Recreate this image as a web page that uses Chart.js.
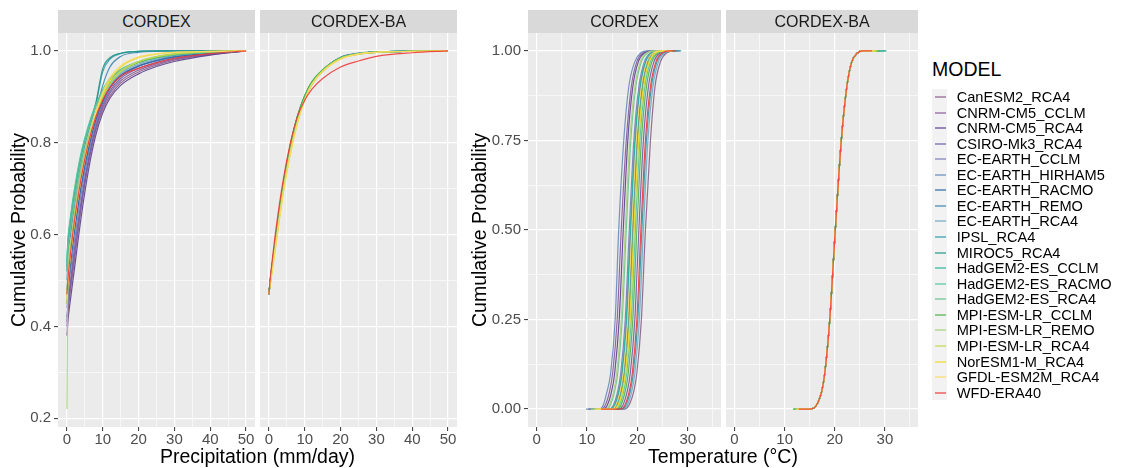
<!DOCTYPE html>
<html>
<head>
<meta charset="utf-8">
<script src="https://cdn.jsdelivr.net/npm/chart.js@4.4.1/dist/chart.umd.min.js"></script>
<style>
  body { margin: 0; background: #fff; font-family: 'Liberation Sans', Arial, sans-serif; }
  #fig { position: relative; width: 1132px; height: 468px; overflow: hidden; }
  canvas { position: absolute; }
  .strip { position: absolute; top: 10px; height: 23px; line-height: 23px; background: #D9D9D9;
           color: #1A1A1A; font-size: 16px; text-align: center; }
  .title { position: absolute; font-size: 19.5px; color: #000; white-space: nowrap; line-height: 22px; }
  .ytitle { transform: translate(-50%, -50%) rotate(-90deg); }
  .xtitle { transform: translate(-50%, -50%); }
  #legend { position: absolute; left: 932px; top: 58px; }
  #legend .head { font-size: 19.5px; line-height: 22px; }
  #keys { position: absolute; left: 0; top: 31px; width: 15px; height: 311px; background: #F2F2F2; }
  .row { position: absolute; left: 0; height: 16px; line-height: 16px; font-size: 14.6px; color: #000; white-space: nowrap; }
  .row i { position: absolute; left: 2.5px; top: 7px; width: 11.5px; height: 2px; }
  .row span { position: absolute; left: 24.7px; top: 0; }
</style>
</head>
<body>
<div id="fig">
  <canvas id="p1"></canvas>
  <canvas id="p2"></canvas>
  <canvas id="p3"></canvas>
  <canvas id="p4"></canvas>
  <div class="strip" style="left:58px;width:197px">CORDEX</div>
  <div class="strip" style="left:260px;width:197px">CORDEX-BA</div>
  <div class="strip" style="left:528px;width:193px">CORDEX</div>
  <div class="strip" style="left:726px;width:192px">CORDEX-BA</div>
  <div class="title ytitle" style="left:17.5px;top:230px">Cumulative Probability</div>
  <div class="title ytitle" style="left:479px;top:230px">Cumulative Probability</div>
  <div class="title xtitle" style="left:257.5px;top:456px">Precipitation (mm/day)</div>
  <div class="title xtitle" style="left:723px;top:456px">Temperature (°C)</div>
  <div id="legend"><div class="head">MODEL</div><div id="keys"></div></div>
</div>
<script>
Chart.defaults.font.family = "'Liberation Sans', Arial, sans-serif";

// models, in legend order (last one is drawn on top)
const MODELS = [
  'CanESM2_RCA4', 'CNRM-CM5_CCLM', 'CNRM-CM5_RCA4', 'CSIRO-Mk3_RCA4', 'EC-EARTH_CCLM',
  'EC-EARTH_HIRHAM5', 'EC-EARTH_RACMO', 'EC-EARTH_REMO', 'EC-EARTH_RCA4', 'IPSL_RCA4',
  'MIROC5_RCA4', 'HadGEM2-ES_CCLM', 'HadGEM2-ES_RACMO', 'HadGEM2-ES_RCA4', 'MPI-ESM-LR_CCLM',
  'MPI-ESM-LR_REMO', 'MPI-ESM-LR_RCA4', 'NorESM1-M_RCA4', 'GFDL-ESM2M_RCA4', 'WFD-ERA40'
];
const COLORS = [
  '#8B5E8B', '#8A5A9A', '#5B3F8F', '#6B5CA5', '#7C7DB8',
  '#6788BC', '#2F65A6', '#3E86B0', '#72A9C4', '#2E9AAA',
  '#1F9686', '#2BB39A', '#52C4A0', '#6CC28F', '#4FB04A',
  '#A5D17A', '#C2D84C', '#EFD928', '#F7DC6A', '#EE3B3B'
];

// precipitation: cumulative probability at these amounts (mm/day)
const PREC_X = [0, 0.25, 1, 2, 4, 6, 8, 10, 12, 15, 20, 25, 30, 40, 50];
const PREC_CORDEX = [
  [0.40, 0.43, 0.48, 0.54, 0.660, 0.755, 0.825, 0.872, 0.902, 0.930, 0.954, 0.969, 0.980, 0.992, 1],
  [0.41, 0.44, 0.49, 0.55, 0.665, 0.760, 0.830, 0.877, 0.908, 0.935, 0.958, 0.972, 0.982, 0.993, 1],
  [0.38, 0.41, 0.46, 0.52, 0.640, 0.740, 0.815, 0.865, 0.897, 0.925, 0.950, 0.966, 0.977, 0.991, 1],
  [0.42, 0.45, 0.50, 0.565, 0.675, 0.765, 0.835, 0.882, 0.913, 0.940, 0.962, 0.975, 0.984, 0.994, 1],
  [0.44, 0.47, 0.52, 0.58, 0.690, 0.775, 0.840, 0.887, 0.918, 0.944, 0.966, 0.978, 0.986, 0.995, 1],
  [0.46, 0.49, 0.545, 0.605, 0.710, 0.790, 0.850, 0.893, 0.922, 0.948, 0.968, 0.980, 0.988, 0.996, 1],
  [0.45, 0.48, 0.535, 0.60, 0.705, 0.785, 0.848, 0.890, 0.920, 0.946, 0.967, 0.979, 0.987, 0.995, 1],
  [0.50, 0.55, 0.60, 0.655, 0.745, 0.810, 0.862, 0.925, 0.965, 0.988, 0.997, 0.999, 1, 1, 1],
  [0.48, 0.51, 0.565, 0.625, 0.725, 0.800, 0.857, 0.898, 0.926, 0.951, 0.971, 0.982, 0.990, 0.997, 1],
  [0.52, 0.57, 0.62, 0.675, 0.760, 0.825, 0.880, 0.955, 0.982, 0.994, 0.999, 1, 1, 1, 1],
  [0.53, 0.58, 0.63, 0.685, 0.770, 0.832, 0.885, 0.962, 0.985, 0.995, 0.999, 1, 1, 1, 1],
  [0.54, 0.58, 0.635, 0.69, 0.775, 0.835, 0.880, 0.915, 0.938, 0.958, 0.975, 0.985, 0.991, 0.997, 1],
  [0.55, 0.59, 0.64, 0.695, 0.780, 0.838, 0.882, 0.915, 0.940, 0.960, 0.977, 0.987, 0.993, 0.998, 1],
  [0.52, 0.56, 0.615, 0.675, 0.765, 0.830, 0.877, 0.913, 0.938, 0.958, 0.976, 0.986, 0.992, 0.997, 1],
  [0.47, 0.51, 0.57, 0.63, 0.730, 0.805, 0.860, 0.900, 0.930, 0.955, 0.975, 0.986, 0.993, 0.998, 1],
  [0.22, 0.50, 0.58, 0.645, 0.745, 0.815, 0.865, 0.903, 0.932, 0.957, 0.977, 0.988, 0.994, 0.998, 1],
  [0.46, 0.50, 0.56, 0.62, 0.725, 0.800, 0.858, 0.898, 0.928, 0.955, 0.976, 0.987, 0.993, 0.998, 1],
  [0.45, 0.49, 0.555, 0.62, 0.725, 0.800, 0.860, 0.905, 0.937, 0.965, 0.985, 0.993, 0.997, 0.999, 1],
  [0.46, 0.50, 0.56, 0.625, 0.730, 0.805, 0.865, 0.910, 0.942, 0.968, 0.987, 0.994, 0.997, 0.999, 1],
  [0.47, 0.50, 0.56, 0.625, 0.725, 0.800, 0.855, 0.893, 0.920, 0.945, 0.962, 0.974, 0.984, 0.994, 1]
];
const PREC_BA = [
  [0.47, 0.490, 0.535, 0.595, 0.703, 0.788, 0.852, 0.897, 0.928, 0.956, 0.984, 0.994, 0.997, 0.999, 1],
  [0.47, 0.490, 0.536, 0.596, 0.704, 0.789, 0.853, 0.898, 0.929, 0.957, 0.985, 0.994, 0.997, 0.999, 1],
  [0.47, 0.488, 0.533, 0.592, 0.700, 0.786, 0.850, 0.896, 0.928, 0.957, 0.985, 0.994, 0.998, 0.999, 1],
  [0.47, 0.490, 0.535, 0.594, 0.702, 0.787, 0.851, 0.897, 0.928, 0.956, 0.984, 0.993, 0.997, 0.999, 1],
  [0.47, 0.491, 0.537, 0.597, 0.705, 0.790, 0.854, 0.899, 0.929, 0.957, 0.985, 0.994, 0.997, 0.999, 1],
  [0.47, 0.490, 0.536, 0.595, 0.704, 0.789, 0.853, 0.898, 0.929, 0.957, 0.985, 0.994, 0.998, 0.999, 1],
  [0.47, 0.491, 0.538, 0.598, 0.707, 0.792, 0.856, 0.900, 0.930, 0.958, 0.986, 0.995, 0.998, 0.999, 1],
  [0.47, 0.491, 0.538, 0.598, 0.706, 0.791, 0.855, 0.900, 0.930, 0.957, 0.985, 0.994, 0.998, 0.999, 1],
  [0.47, 0.490, 0.536, 0.596, 0.705, 0.790, 0.854, 0.899, 0.929, 0.956, 0.984, 0.994, 0.997, 0.999, 1],
  [0.47, 0.492, 0.539, 0.599, 0.708, 0.793, 0.857, 0.901, 0.931, 0.958, 0.985, 0.994, 0.998, 0.999, 1],
  [0.47, 0.492, 0.540, 0.600, 0.710, 0.795, 0.858, 0.902, 0.932, 0.958, 0.985, 0.994, 0.998, 0.999, 1],
  [0.47, 0.492, 0.540, 0.600, 0.710, 0.795, 0.858, 0.902, 0.932, 0.958, 0.985, 0.994, 0.998, 0.999, 1],
  [0.47, 0.492, 0.539, 0.600, 0.709, 0.794, 0.858, 0.902, 0.931, 0.958, 0.985, 0.994, 0.998, 0.999, 1],
  [0.47, 0.493, 0.541, 0.601, 0.711, 0.796, 0.859, 0.903, 0.932, 0.958, 0.985, 0.994, 0.998, 0.999, 1],
  [0.47, 0.493, 0.541, 0.602, 0.712, 0.797, 0.860, 0.903, 0.933, 0.959, 0.985, 0.994, 0.998, 0.999, 1],
  [0.47, 0.489, 0.532, 0.590, 0.700, 0.785, 0.850, 0.897, 0.929, 0.957, 0.984, 0.994, 0.997, 0.999, 1],
  [0.47, 0.487, 0.529, 0.586, 0.695, 0.781, 0.847, 0.895, 0.928, 0.956, 0.983, 0.993, 0.997, 0.999, 1],
  [0.47, 0.485, 0.525, 0.580, 0.690, 0.776, 0.843, 0.893, 0.927, 0.956, 0.983, 0.993, 0.997, 0.999, 1],
  [0.47, 0.486, 0.527, 0.583, 0.692, 0.778, 0.845, 0.894, 0.927, 0.955, 0.982, 0.993, 0.997, 0.999, 1],
  [0.47, 0.495, 0.550, 0.615, 0.720, 0.800, 0.858, 0.893, 0.917, 0.940, 0.965, 0.978, 0.988, 0.996, 1]
];

// temperature: value (°C) reached at each cumulative probability
const TEMP_P = [0, 0, 0.01, 0.05, 0.1, 0.25, 0.5, 0.75, 0.9, 0.97, 0.995, 1, 1];
const TEMP_CORDEX = [
  [13.6, 17.4, 18.3, 19.3, 19.9, 20.8, 21.6, 22.6, 23.5, 24.6, 25.9, 27.3, 28.4],
  [10.2, 12.8, 13.6, 14.5, 15.1, 16.0, 16.8, 17.8, 18.8, 19.9, 21.2, 22.6, 24.5],
  [10.5, 13.2, 14.0, 14.9, 15.5, 16.4, 17.2, 18.1, 19.1, 20.2, 21.5, 23.0, 25.0],
  [12.4, 16.2, 17.1, 18.0, 18.6, 19.5, 20.3, 21.2, 22.2, 23.3, 24.6, 26.0, 27.6],
  [11.2, 14.4, 15.2, 16.1, 16.7, 17.6, 18.4, 19.3, 20.3, 21.4, 22.7, 24.2, 26.0],
  [9.8, 12.4, 13.2, 14.0, 14.7, 15.6, 16.3, 17.3, 18.3, 19.5, 20.7, 22.0, 24.0],
  [11.6, 15.0, 15.8, 16.7, 17.3, 18.2, 19.0, 19.9, 20.9, 22.0, 23.3, 24.8, 26.5],
  [11.4, 14.7, 15.5, 16.4, 17.0, 17.9, 18.7, 19.6, 20.6, 21.7, 23.0, 24.5, 26.2],
  [13.3, 17.1, 18.0, 18.9, 19.5, 20.4, 21.2, 22.1, 23.1, 24.2, 25.5, 27.0, 28.2],
  [13.0, 16.8, 17.7, 18.6, 19.2, 20.1, 20.9, 21.8, 22.8, 23.9, 25.2, 26.7, 28.7],
  [11.8, 15.2, 16.0, 16.9, 17.5, 18.4, 19.2, 20.1, 21.1, 22.2, 23.5, 25.0, 26.8],
  [11.3, 14.6, 15.4, 16.3, 16.9, 17.8, 18.6, 19.5, 20.5, 21.6, 22.9, 24.4, 26.1],
  [12.0, 15.6, 16.4, 17.3, 17.9, 18.8, 19.6, 20.5, 21.5, 22.6, 23.9, 25.4, 27.2],
  [10.8, 13.8, 14.6, 15.5, 16.1, 17.0, 17.8, 18.7, 19.7, 20.8, 22.1, 23.6, 25.4],
  [12.2, 15.9, 16.7, 17.6, 18.2, 19.1, 19.9, 20.8, 21.8, 22.9, 24.2, 25.7, 27.4],
  [10.7, 13.6, 14.4, 15.3, 15.9, 16.8, 17.6, 18.5, 19.5, 20.6, 21.9, 23.4, 25.2],
  [11.9, 15.4, 16.2, 17.1, 17.7, 18.6, 19.4, 20.3, 21.3, 22.4, 23.7, 25.2, 27.0],
  [11.9, 15.3, 16.1, 17.0, 17.6, 18.5, 19.3, 20.2, 21.2, 22.3, 23.6, 25.1, 26.9],
  [11.5, 14.9, 15.7, 16.6, 17.2, 18.1, 18.9, 19.8, 20.8, 21.9, 23.2, 24.7, 26.4],
  [12.8, 16.6, 17.5, 18.4, 19.0, 19.9, 20.7, 21.6, 22.6, 23.7, 25.0, 26.4, 27.6]
];
const TEMP_BA = [
  [12.6, 15.0, 16.3, 17.4, 18.0, 19.0, 20.1, 21.3, 22.4, 23.4, 24.6, 25.6, 28.0],
  [12.6, 15.0, 16.3, 17.4, 18.0, 19.0, 20.1, 21.3, 22.4, 23.4, 24.6, 25.6, 28.1],
  [12.5, 15.0, 16.3, 17.4, 18.0, 19.0, 20.1, 21.3, 22.4, 23.4, 24.6, 25.6, 28.2],
  [12.5, 15.0, 16.3, 17.4, 18.0, 19.0, 20.1, 21.3, 22.4, 23.4, 24.6, 25.6, 28.3],
  [12.4, 15.0, 16.3, 17.4, 18.0, 19.0, 20.1, 21.3, 22.4, 23.4, 24.6, 25.6, 28.4],
  [12.4, 15.0, 16.3, 17.4, 18.0, 19.0, 20.1, 21.3, 22.4, 23.4, 24.6, 25.6, 28.5],
  [12.3, 15.0, 16.3, 17.4, 18.0, 19.0, 20.1, 21.3, 22.4, 23.4, 24.6, 25.6, 28.7],
  [12.3, 15.0, 16.3, 17.4, 18.0, 19.0, 20.1, 21.3, 22.4, 23.4, 24.6, 25.6, 28.8],
  [12.2, 15.0, 16.3, 17.4, 18.0, 19.0, 20.1, 21.3, 22.4, 23.4, 24.6, 25.6, 29.0],
  [12.1, 15.0, 16.3, 17.4, 18.0, 19.0, 20.1, 21.3, 22.4, 23.4, 24.6, 25.6, 29.4],
  [12.0, 15.0, 16.3, 17.4, 18.0, 19.0, 20.1, 21.3, 22.4, 23.4, 24.6, 25.6, 30.3],
  [11.9, 15.0, 16.3, 17.4, 18.0, 19.0, 20.1, 21.3, 22.4, 23.4, 24.6, 25.6, 30.0],
  [11.8, 15.0, 16.3, 17.4, 18.0, 19.0, 20.1, 21.3, 22.4, 23.4, 24.6, 25.6, 29.6],
  [11.7, 15.0, 16.3, 17.4, 18.0, 19.0, 20.1, 21.3, 22.4, 23.4, 24.6, 25.6, 29.2],
  [11.7, 15.0, 16.3, 17.4, 18.0, 19.0, 20.1, 21.3, 22.4, 23.4, 24.6, 25.6, 28.9],
  [12.0, 15.0, 16.3, 17.4, 18.0, 19.0, 20.1, 21.3, 22.4, 23.4, 24.6, 25.6, 28.6],
  [12.2, 15.0, 16.3, 17.4, 18.0, 19.0, 20.1, 21.3, 22.4, 23.4, 24.6, 25.6, 28.4],
  [12.4, 15.0, 16.3, 17.4, 18.0, 19.0, 20.1, 21.3, 22.4, 23.4, 24.6, 25.6, 28.2],
  [12.5, 15.0, 16.3, 17.4, 18.0, 19.0, 20.1, 21.3, 22.4, 23.4, 24.6, 25.6, 28.0],
  [12.8, 15.0, 16.3, 17.4, 18.0, 19.0, 20.1, 21.3, 22.4, 23.4, 24.6, 25.6, 27.4]
];

// axis breaks
const PREC_X_MAJOR = [0, 10, 20, 30, 40, 50];
const PREC_X_MINOR = [5, 15, 25, 35, 45];
const PREC_Y_MAJOR = [0.2, 0.4, 0.6, 0.8, 1.0];
const PREC_Y_MINOR = [0.3, 0.5, 0.7, 0.9];
const TEMP_X_MAJOR = [0, 10, 20, 30];
const TEMP_X_MINOR = [5, 15, 25, 35];
const TEMP_Y_MAJOR = [0, 0.25, 0.5, 0.75, 1];
const TEMP_Y_MINOR = [0.125, 0.375, 0.625, 0.875];

const X_AXIS_H = 24;
const PAD_R = 6;
const PAD_T = 14;   // room above the panel so label overflow doesn't shrink the plot

// grey panel background under the grid
const panelBg = {
  id: 'panelBg',
  beforeDraw(chart) {
    const { ctx, chartArea: a } = chart;
    ctx.save();
    ctx.fillStyle = '#EBEBEB';
    ctx.fillRect(a.left, a.top, a.width, a.height);
    ctx.restore();
  }
};

function axis(isX, min, max, major, minor, fmt, showLabels, size) {
  return {
    type: 'linear',
    min: min,
    max: max,
    afterBuildTicks: s => {
      s.ticks = major.map(v => ({ value: v }))
        .concat(minor.map(v => ({ value: v, minor: true })))
        .sort((a, b) => a.value - b.value);
    },
    afterFit: s => { if (isX) s.height = size; else s.width = size; },
    border: { display: false },
    grid: {
      color: '#FFFFFF',
      lineWidth: c => (c.tick && c.tick.minor) ? 0.6 : 1.2,
      drawTicks: showLabels,
      tickLength: 4,
      tickWidth: 1,
      tickColor: c => (c.tick && c.tick.minor) ? 'rgba(0,0,0,0)' : '#333333'
    },
    ticks: {
      display: showLabels,
      autoSkip: false,
      maxRotation: 0,
      padding: isX ? 0 : 3,
      color: '#4D4D4D',
      font: { size: 15 },
      callback: (v, i, t) => t[i].minor ? '' : fmt(v)
    }
  };
}

function withAlpha(hex, a) {
  const n = parseInt(hex.slice(1), 16);
  return `rgba(${n >> 16},${(n >> 8) & 255},${n & 255},${a})`;
}

function panel(id, box, yW, datasets, xAxis, yAxis) {
  const cv = document.getElementById(id);
  cv.width = yW + box.width + PAD_R;
  cv.height = PAD_T + box.height + X_AXIS_H;
  cv.style.left = (box.left - yW) + 'px';
  cv.style.top = (box.top - PAD_T) + 'px';
  return new Chart(cv, {
    type: 'line',
    data: { datasets: datasets },
    options: {
      responsive: false,
      animation: false,
      layout: { padding: { left: 0, right: PAD_R, top: PAD_T, bottom: 0 } },
      plugins: { legend: { display: false }, tooltip: { enabled: false } },
      elements: {
        point: { radius: 0 },
        line: { borderWidth: 1.2, cubicInterpolationMode: 'monotone' }
      },
      scales: { x: xAxis, y: yAxis }
    },
    plugins: [panelBg]
  });
}

// first dataset is painted last in Chart.js, so reverse to keep WFD-ERA40 on top
function precSets(rows) {
  return MODELS.map((m, k) => ({
    label: m,
    data: PREC_X.map((x, i) => ({ x: x, y: rows[k][i] })),
    borderColor: withAlpha(COLORS[k], 0.9)
  })).reverse();
}
function tempSets(rows) {
  return MODELS.map((m, k) => ({
    label: m,
    data: TEMP_P.map((p, i) => ({ x: rows[k][i], y: p })),
    borderColor: withAlpha(COLORS[k], 0.9)
  })).reverse();
}

const f1 = v => v.toFixed(1);
const f2 = v => v.toFixed(2);
const f0 = v => String(v);

panel('p1', { left: 58, top: 33, width: 197, height: 394 }, 40, precSets(PREC_CORDEX),
  axis(true, -2.5, 52.5, PREC_X_MAJOR, PREC_X_MINOR, f0, true, X_AXIS_H),
  axis(false, 0.181, 1.039, PREC_Y_MAJOR, PREC_Y_MINOR, f1, true, 40));
panel('p2', { left: 260, top: 33, width: 197, height: 394 }, 0, precSets(PREC_BA),
  axis(true, -2.5, 52.5, PREC_X_MAJOR, PREC_X_MINOR, f0, true, X_AXIS_H),
  axis(false, 0.181, 1.039, PREC_Y_MAJOR, PREC_Y_MINOR, f1, false, 0));
panel('p3', { left: 528, top: 33, width: 193, height: 394 }, 45, tempSets(TEMP_CORDEX),
  axis(true, -1.7, 36.6, TEMP_X_MAJOR, TEMP_X_MINOR, f0, true, X_AXIS_H),
  axis(false, -0.05, 1.05, TEMP_Y_MAJOR, TEMP_Y_MINOR, f2, true, 45));
panel('p4', { left: 726, top: 33, width: 192, height: 394 }, 0, tempSets(TEMP_BA),
  axis(true, -1.7, 36.6, TEMP_X_MAJOR, TEMP_X_MINOR, f0, true, X_AXIS_H),
  axis(false, -0.05, 1.05, TEMP_Y_MAJOR, TEMP_Y_MINOR, f2, false, 0));

// legend: one key per model
const keys = document.getElementById('keys');
MODELS.forEach((m, k) => {
  const row = document.createElement('div');
  row.className = 'row';
  row.style.top = Math.round(k * 15.56) + 'px';
  row.innerHTML = `<i style="background:${withAlpha(COLORS[k], 0.6)}"></i><span>${m}</span>`;
  keys.appendChild(row);
});
</script>
</body>
</html>
